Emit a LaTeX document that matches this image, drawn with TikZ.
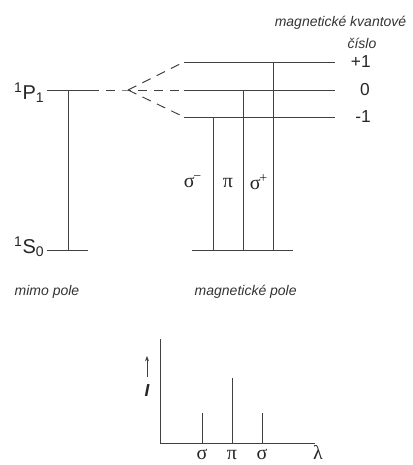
\documentclass[tikz,border=0pt]{standalone}
\usepackage{fontspec}
\setmainfont{Liberation Sans}
\newfontfamily\recky{Liberation Serif}
\usetikzlibrary{positioning,arrows.meta}
\tikzset{
  hladina/.style={line width=0.7pt,black!75},
  prechod/.style={line width=0.6pt,black!75},
  popis/.style={font=\fontsize{10.5}{12}\selectfont\itshape,black!80},
  cislo/.style={font=\fontsize{13}{15}\selectfont,black!85,anchor=east,inner sep=0pt},
  term/.style={font=\fontsize{15}{17}\selectfont,black!85,anchor=east,inner sep=1pt},
  recke/.style={font=\fontsize{15}{17}\selectfont\recky,black!85,inner sep=0pt}
}
\begin{document}
\begin{tikzpicture}[x=0.75pt,y=-0.75pt]
\useasboundingbox (0,0) rectangle (412,465);
% hladiny mimo pole
\coordinate (p1L) at (47,90);  \coordinate (p1R) at (90,90);
\coordinate (s0L) at (47,250); \coordinate (s0R) at (88,250);
\node[term] (P1) at (46,93) {\textsuperscript{1}P\textsubscript{1}};
\node[term] (S0) at (46,247) {\textsuperscript{1}S\textsubscript{0}};
\draw[hladina] (p1L) -- (p1R);
\draw[hladina] (s0L) -- (s0R);
\coordinate (t0) at (68,90); \coordinate (t0e) at (68,250);
\draw[prechod] (t0) -- (t0e);
% rozstep v magnetickem poli
\coordinate (fan) at (128,90);
\coordinate (mpL) at (184,62);  \coordinate (mpR) at (335,62);
\coordinate (m0L) at (184,90);  \coordinate (m0R) at (335,90);
\coordinate (mmL) at (184,117); \coordinate (mmR) at (335,117);
\draw[hladina,dash pattern=on 7pt off 5pt] (p1R) -- (fan) -- (m0L);
\draw[hladina,dash pattern=on 7pt off 5pt] (fan) -- (mpL);
\draw[hladina,dash pattern=on 7pt off 5pt] (fan) -- (mmL);
\draw[hladina] (mpL) -- (mpR) (m0L) -- (m0R) (mmL) -- (mmR);
\node[cislo] (mp) at (371,62) {+1};
\node[cislo] (m0) at (370,90) {0};
\node[cislo] (mm) at (371,117) {-1};
\node[popis,anchor=east] (kv) at (411,23) {magnetické kvantové};
\node[popis,anchor=east] (ci) at (381,43) {číslo};
% zakladni hladina a prechody
\coordinate (sL) at (192,250); \coordinate (sR) at (293,250);
\draw[hladina] (sL) -- (sR);
\coordinate (a1) at (213,117); \coordinate (b1) at (213,250);
\coordinate (a2) at (243,90);  \coordinate (b2) at (243,250);
\coordinate (a3) at (273,62);  \coordinate (b3) at (273,250);
\draw[prechod] (a1) -- (b1) (a2) -- (b2) (a3) -- (b3);
\node[recke] (sm) at (193,182) {σ\textsuperscript{\kern-1pt−}};
\node[recke] (pi) at (228,183) {π};
\node[recke] (sp) at (259,182) {σ\textsuperscript{\kern-1pt+}};
\node[popis,anchor=west] (mimo) at (10,292) {mimo pole};
\node[popis,anchor=west] (mag) at (190,292) {magnetické pole};
% spektrum
\coordinate (O) at (160,443); \coordinate (yT) at (160,339); \coordinate (xE) at (315,443);
\draw[prechod] (yT) -- (O) -- (xE);
\coordinate (c1) at (202,413); \coordinate (d1) at (202,443);
\coordinate (c2) at (232,378); \coordinate (d2) at (232,443);
\coordinate (c3) at (262,413); \coordinate (d3) at (262,443);
\draw[prechod] (d1) -- (c1) (d2) -- (c2) (d3) -- (c3);
\coordinate (s1) at (147,377); \coordinate (s2) at (147,356);
\draw[prechod,-{Stealth[length=4pt,width=3pt]}] (s1) -- (s2);
\node[font=\fontsize{13}{15}\selectfont\itshape\bfseries,black!85] (I) at (147,391) {I};
\node[recke,anchor=base] (l1) at (202,459) {σ};
\node[recke,anchor=base] (l2) at (232,459) {π};
\node[recke,anchor=base] (l3) at (262,459) {σ};
\node[recke,anchor=base] (l4) at (318,459) {λ};
\end{tikzpicture}
\end{document}
